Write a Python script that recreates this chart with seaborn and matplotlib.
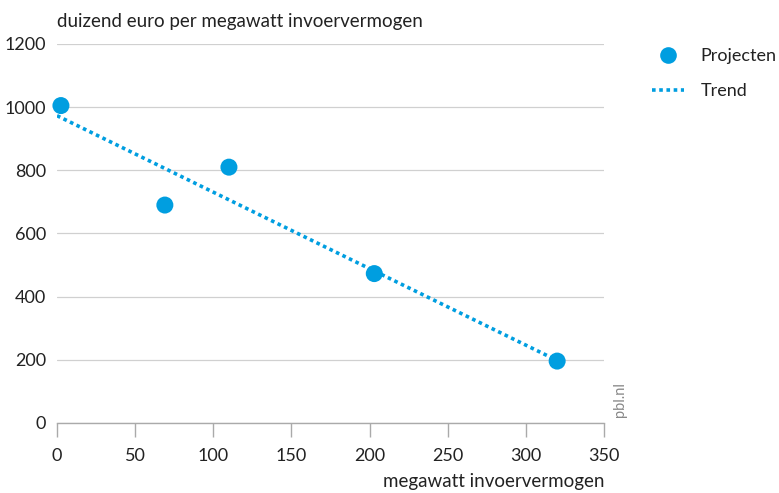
import numpy as np
import pandas as pd
import matplotlib
matplotlib.use('Agg')
import matplotlib.pyplot as plt
import seaborn as sns
from matplotlib.lines import Line2D

# Data
project_mw = [2.5, 69, 110, 203, 320]
project_cost = [1005, 690, 810, 473, 196]
trend_mw = [0, 320]
trend_cost = [973, 198]

x_ticks = [0, 50, 100, 150, 200, 250, 300, 350]
y_ticks = [0, 200, 400, 600, 800, 1000, 1200]

blue = '#009ee0'
text_color = '#222222'
grid_color = '#d0d0d0'

sns.set_style('white')
plt.rcParams['font.family'] = ['Lato', 'DejaVu Sans']

df = pd.DataFrame({'mw': project_mw, 'cost': project_cost})
trend = pd.DataFrame({'mw': trend_mw, 'cost': trend_cost})

fig = plt.figure(figsize=(7.79, 4.93), dpi=100)
ax = fig.add_axes([0.0732, 0.142, 0.7022, 0.7688])

sns.lineplot(data=trend, x='mw', y='cost', ax=ax, color=blue, linewidth=2.6,
             linestyle=(0, (1, 1)), zorder=2)
sns.scatterplot(data=df, x='mw', y='cost', ax=ax, color=blue, s=150,
                edgecolor='none', zorder=3, clip_on=False)

ax.set_xlim(0, 350)
ax.set_ylim(0, 1200)
ax.set_xticks(x_ticks)
ax.set_yticks(y_ticks)
ax.set_xlabel('')
ax.set_ylabel('')

ax.yaxis.grid(True, color=grid_color, linewidth=0.9)
ax.set_axisbelow(True)
for side in ['top', 'right', 'left']:
    ax.spines[side].set_visible(False)
ax.spines['bottom'].set_color('#aaaaaa')
ax.spines['bottom'].set_linewidth(1.0)

ax.tick_params(axis='x', bottom=True, direction='out', length=10, width=1,
               color='#aaaaaa', labelsize=13, labelcolor=text_color, pad=8)
ax.tick_params(axis='y', left=False, length=0, labelsize=13,
               labelcolor=text_color, pad=8)

fig.text(0.0732, 0.946, 'duizend euro per megawatt invoervermogen', fontsize=13.5,
         color=text_color, va='baseline', ha='left')
fig.text(0.7754, 0.012, 'megawatt invoervermogen', fontsize=13.5,
         color=text_color, va='baseline', ha='right')
fig.text(0.796, 0.155, 'pbl.nl', fontsize=10.5, color='#888888', rotation=90,
         va='bottom', ha='center')

handles = [
    Line2D([0], [0], marker='o', color='none', markerfacecolor=blue,
           markeredgecolor='none', markersize=12, label='Projecten'),
    Line2D([0], [0], color=blue, linewidth=2.6, linestyle=(0, (1, 1)), label='Trend'),
]
fig.legend(handles=handles, loc='upper left', bbox_to_anchor=(0.837, 0.902),
           frameon=False, fontsize=13, labelcolor=text_color,
           borderpad=0, borderaxespad=0,
           handlelength=1.75, handletextpad=0.95, labelspacing=1.05)

fig.savefig('out.png', dpi=100)
